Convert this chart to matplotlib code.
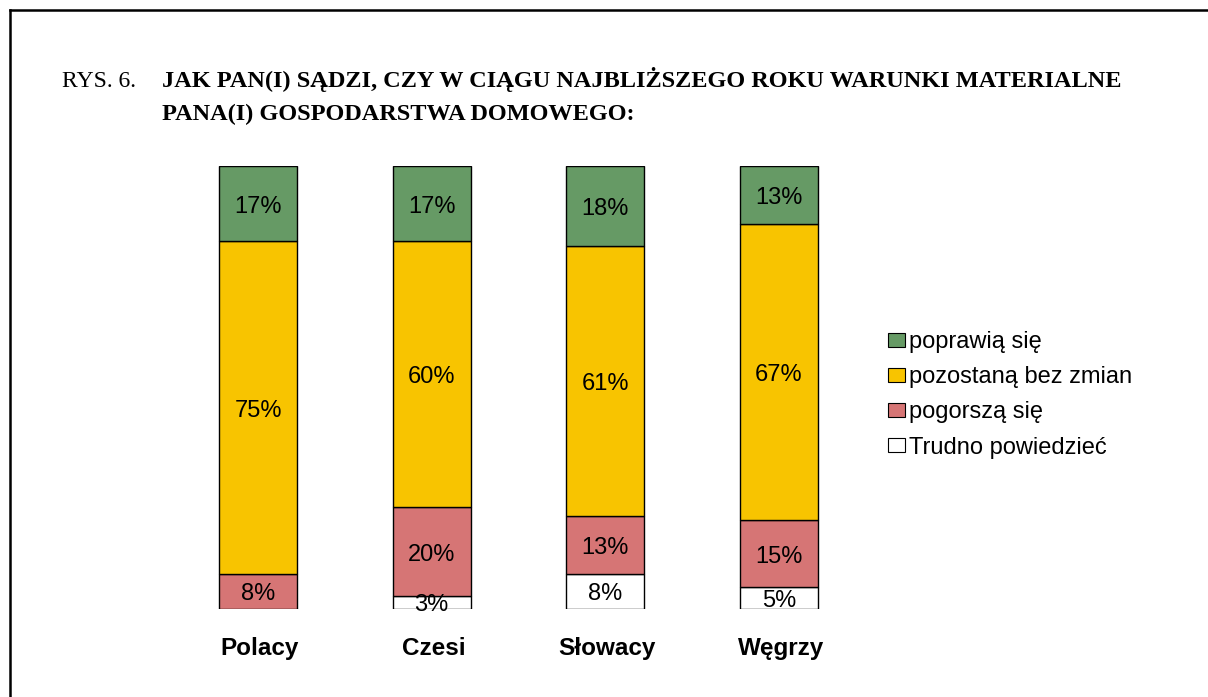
import matplotlib
matplotlib.use('Agg')
import matplotlib.pyplot as plt
from matplotlib.lines import Line2D
from matplotlib.patches import Patch

countries = ['Polacy', 'Czesi', 'Słowacy', 'Węgrzy']
trudno = [0, 3, 8, 5]
pogorsza = [8, 20, 13, 15]
bez_zmian = [75, 60, 61, 67]
poprawia = [17, 17, 18, 13]

series_names = ['Trudno powiedzieć', 'pogorszą się', 'pozostaną bez zmian', 'poprawią się']
series_colors = ['#ffffff', '#d67575', '#f8c400', '#669a65']

W, H = 1208, 697
fig = plt.figure(figsize=(W / 100, H / 100), dpi=100)

# frame of the page (only left and top visible)
fig.add_artist(Line2D([9.5 / W, 9.5 / W], [0, 1 - 9.5 / H], transform=fig.transFigure,
                      color='black', linewidth=1.8))
fig.add_artist(Line2D([9.5 / W, 1], [1 - 9.5 / H, 1 - 9.5 / H], transform=fig.transFigure,
                      color='black', linewidth=1.8))

# title
fig.text(62 / W, 1 - 87 / H, 'RYS. 6.', family='Liberation Serif', fontsize=17,
         va='baseline', ha='left')
fig.text(162 / W, 1 - 87 / H, 'JAK PAN(I) SĄDZI, CZY W CIĄGU NAJBLIŻSZEGO ROKU WARUNKI MATERIALNE',
         family='Liberation Serif', fontsize=17.5, fontweight='bold', va='baseline', ha='left')
fig.text(162 / W, 1 - 120 / H, 'PANA(I) GOSPODARSTWA DOMOWEGO:',
         family='Liberation Serif', fontsize=17.5, fontweight='bold', va='baseline', ha='left')

# axes: bar centres at 258, 432, 605, 779 px; top 166, bottom 609
step = 173.67
left = 258 - step / 2
ax = fig.add_axes([left / W, 1 - 609 / H, 4 * step / W, 443 / H])
ax.set_xlim(-0.5, 3.5)
ax.set_ylim(0, 100)
ax.axis('off')

x = range(len(countries))
bar_w = 78 / step
bottoms = [0] * len(countries)
for vals, name, col in zip([trudno, pogorsza, bez_zmian, poprawia], series_names, series_colors):
    ax.bar(x, vals, bar_w, bottom=bottoms, color=col, edgecolor='black', linewidth=1.0)
    for i, v in enumerate(vals):
        if v > 0:
            ax.text(i, bottoms[i] + v / 2 - 0.7, f'{v}%', ha='center', va='center',
                    family='Liberation Sans', fontsize=17)
    bottoms = [b + v for b, v in zip(bottoms, vals)]

for i, c in enumerate(countries):
    ax.text(i + 0.01, -9.0, c, ha='center', va='center', family='Liberation Sans',
            fontsize=17.5, fontweight='bold')

handles = [Patch(facecolor=col, edgecolor='black', linewidth=0.8, label=name)
           for name, col in zip(series_names, series_colors)]
handles = handles[::-1]
fig.legend(handles=handles, loc='upper left', bbox_to_anchor=(888 / W, 1 - 331 / H),
           frameon=False, prop={'family': 'Liberation Sans', 'size': 17},
           handlelength=0.7, handleheight=0.55, handletextpad=0.2, labelspacing=0.56,
           borderpad=0, borderaxespad=0)

fig.savefig('out.png', dpi=100)
